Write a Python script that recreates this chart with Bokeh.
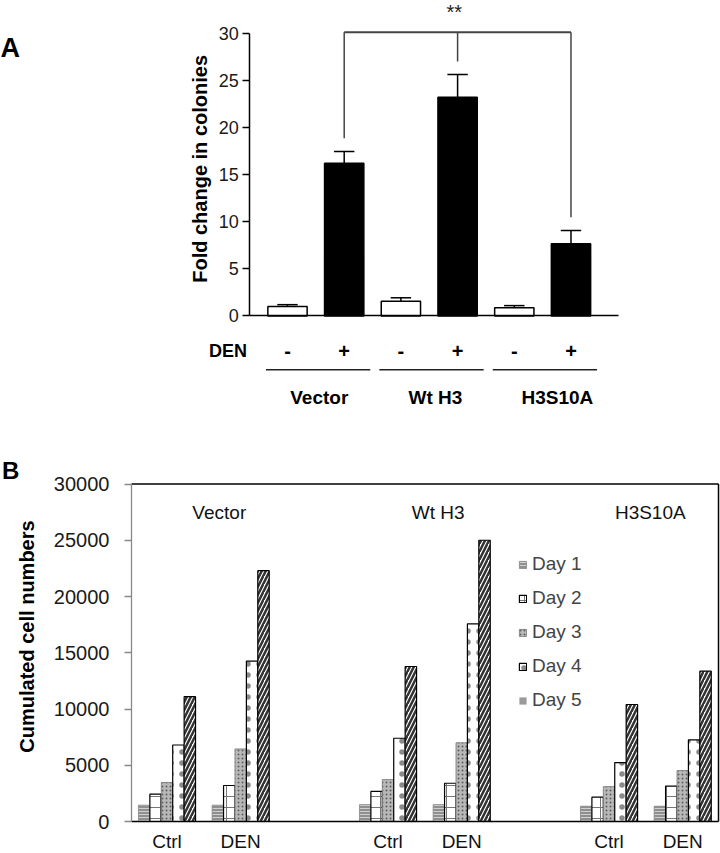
import math
from bokeh.plotting import figure
from bokeh.layouts import column
from bokeh.models import (Range1d, FixedTicker, LinearAxis, Legend, LegendItem,
                          ColumnDataSource)
from bokeh.core.properties import value
from bokeh.embed import file_html
from bokeh.resources import INLINE

# ---------------- DATA ----------------
# Panel A
groups_A = ["Vector", "Wt H3", "H3S10A"]
den_signs = ["-", "+", "-", "+", "-", "+"]
fold_mean = [1.0, 16.2, 1.55, 23.2, 0.88, 7.65]
fold_err = [0.2, 1.25, 0.38, 2.4, 0.22, 1.42]
yticks_A = [0, 5, 10, 15, 20, 25, 30]
sig_bars = [1, 3, 5]          # bars joined by the significance bracket
sig_text = "**"

# Panel B
groups_B = ["Vector", "Wt H3", "H3S10A"]
treatments = ["Ctrl", "DEN"]
days = ["Day 1", "Day 2", "Day 3", "Day 4", "Day 5"]
day1 = [1450, 1450, 1500, 1500, 1360, 1360]
day2 = [2440, 3200, 2670, 3400, 2160, 3140]
day3 = [3470, 6450, 3730, 7000, 3100, 4530]
day4 = [6800, 14250, 7400, 17570, 5240, 7260]
day5 = [11100, 22300, 13780, 25000, 10400, 13360]
yticks_B = [0, 5000, 10000, 15000, 20000, 25000, 30000]

FONT = value("Liberation Sans")


def y_axis(fig, loc, ticks, tick_len, label_gap, font_size, line_color, line_width):
    """Axis drawn at a fixed x; its tick labels are set as text beside the ticks."""
    ax = LinearAxis(fixed_location=loc, bounds=(ticks[0], ticks[-1]),
                    ticker=FixedTicker(ticks=ticks))
    ax.major_label_text_alpha = 0
    ax.major_tick_out = tick_len
    ax.major_tick_in = 0
    ax.minor_tick_line_color = None
    ax.axis_line_color = line_color
    ax.axis_line_width = line_width
    ax.major_tick_line_color = line_color
    ax.major_tick_line_width = line_width
    fig.add_layout(ax, "left")
    fig.text(x=[loc] * len(ticks), y=ticks, text=[str(t) for t in ticks],
             x_offset=-(tick_len + label_gap), text_align="right", text_baseline="middle",
             text_font=FONT, text_font_size=font_size, text_color="#1a1a1a")


# ---------------- PANEL A ----------------
A_axis_x = -0.665          # where the y axis stands
A_x_end = 5.843            # where the x axis line ends
pA = figure(width=720, height=416, x_range=Range1d(-5.062, 7.637),
            y_range=Range1d(-10.66, 33.457), output_backend="svg",
            toolbar_location=None, x_axis_location=None, y_axis_location=None,
            min_border=0, min_border_left=0, min_border_right=0,
            min_border_top=0, min_border_bottom=0)
pA.outline_line_color = None
pA.grid.visible = False

y_axis(pA, A_axis_x, yticks_A, 7, 4, "18px", "black", 1.5)

xa_axis = LinearAxis(fixed_location=0, bounds=(A_axis_x, A_x_end),
                     ticker=FixedTicker(ticks=[]))
xa_axis.axis_line_width = 1.5
xa_axis.major_tick_line_color = None
xa_axis.minor_tick_line_color = None
pA.add_layout(xa_axis, "below")

xa = list(range(len(fold_mean)))
fills = ["white" if s == "-" else "black" for s in den_signs]
tops = [m + e for m, e in zip(fold_mean, fold_err)]
srcA = ColumnDataSource(dict(x=xa, top=fold_mean, fill=fills, err=tops,
                             cl=[x - 0.18 for x in xa], cr=[x + 0.18 for x in xa]))
pA.segment(x0="x", y0="top", x1="x", y1="err", source=srcA, line_color="black", line_width=1.5)
pA.segment(x0="cl", y0="err", x1="cr", y1="err", source=srcA, line_color="black", line_width=1.5)
pA.vbar(x="x", top="top", width=0.693, bottom=0, source=srcA, fill_color="fill",
        line_color="black", line_width=1.5)

# significance bracket
br_y = 30.1
pA.segment(x0=[sig_bars[0]], y0=[br_y], x1=[sig_bars[-1]], y1=[br_y],
           line_color="#444444", line_width=2)
pA.segment(x0=sig_bars, y0=[tops[i] + 1.4 for i in sig_bars], x1=sig_bars,
           y1=[br_y] * len(sig_bars), line_color="#444444", line_width=1.5)
mid = sig_bars[len(sig_bars) // 2]
pA.text(x=[mid - 0.06], y=[32.2], text=[sig_text], text_align="center", text_baseline="middle",
        text_font=FONT, text_font_size="20px", text_color="#222222")

# DEN row, underlines, group labels
pA.text(x=xa, y=[-3.76] * len(xa), text=den_signs, text_align="center",
        text_baseline="middle", text_font=FONT, text_font_style="bold",
        text_font_size="20px", text_color="black")
gcent = [2 * g + 0.5 for g in range(len(groups_A))]
pA.segment(x0=[c + 0.04 - 0.92 for c in gcent], y0=[-5.7] * 3,
           x1=[c + 0.04 + 0.92 for c in gcent], y1=[-5.7] * 3,
           line_color="#222222", line_width=1.5)
label_off_A = [0.06, 0.11, 0.26]
pA.text(x=[c + o for c, o in zip(gcent, label_off_A)], y=[-8.61] * 3, text=groups_A,
        text_align="center", text_baseline="middle", text_font=FONT,
        text_font_style="bold", text_font_size="19px", text_color="black")
pA.text(x=[-1.05], y=[-3.76], text=["DEN"], text_align="center", text_baseline="middle",
        text_font=FONT, text_font_style="bold", text_font_size="18px", text_color="black")
pA.text(x=[-1.55], y=[15.6], text=["Fold change in colonies"], angle=math.pi / 2,
        text_align="center", text_baseline="middle", text_font=FONT,
        text_font_style="bold", text_font_size="20px", text_color="black")
pA.text(x=[-5.062], y=[28.37], text=["A"], text_align="left", text_baseline="middle",
        text_font=FONT, text_font_style="bold", text_font_size="27px", text_color="black")

# ---------------- PANEL B ----------------
B_left, B_right = -0.482, 7.486     # box edges (y axis and right border)
pB = figure(width=720, height=437, x_range=Range1d(-2.260, 7.513),
            y_range=Range1d(-2844, 36000), output_backend="svg", toolbar_location=None,
            x_axis_location=None, y_axis_location=None, min_border=0,
            min_border_left=0, min_border_right=0, min_border_top=0, min_border_bottom=0)
pB.outline_line_color = None
pB.grid.visible = False

slots = [3 * g + t for g in range(len(groups_B)) for t in range(len(treatments))]
bw = 0.155
styles = [
    dict(fill_color="#8f8f8f", line_color="#888888", line_width=0.8,
         hatch_pattern="horizontal_line", hatch_color="#cfcfcf", hatch_scale=3, hatch_weight=1),
    dict(fill_color="white", line_color="black", line_width=1.2,
         hatch_pattern="cross", hatch_color="#777777", hatch_scale=11, hatch_weight=1),
    dict(fill_color="#b8b8b8", line_color="#777777", line_width=0.8,
         hatch_pattern="dot", hatch_color="#5e5e5e", hatch_scale=4, hatch_weight=2),
    dict(fill_color="white", line_color="black", line_width=1.2,
         hatch_pattern="dot", hatch_color="#8a8a8a", hatch_scale=11, hatch_weight=6),
    dict(fill_color="white", line_color="black", line_width=1.2,
         hatch_pattern="right_diagonal_line", hatch_color="#333333", hatch_scale=8, hatch_weight=2.5),
]
series = [day1, day2, day3, day4, day5]
renderers = []
for d, vals in enumerate(series):
    xs = [s + (d - 2) * bw for s in slots]
    r = pB.vbar(x=xs, top=vals, bottom=0, width=bw, **styles[d])
    renderers.append(r)
# legend swatch for Day 5 (drawn solid grey in the original legend); zero-height, invisible
dummy5 = pB.vbar(x=[slots[0]], top=[0], bottom=[0], width=bw, fill_color="#9a9a9a",
                 line_alpha=0)
legend_rs = renderers[:4] + [dummy5]
legend = Legend(items=[LegendItem(label=days[i], renderers=[legend_rs[i]]) for i in range(5)],
                location=(518, 142), glyph_width=9, glyph_height=9, label_standoff=5,
                label_text_font="Liberation Sans", label_text_font_size="19px",
                spacing=12, label_height=20, padding=0, margin=0,
                border_line_color=None, background_fill_alpha=0)
pB.add_layout(legend, "center")

# box: top and right border
pB.segment(x0=[B_left, B_right], y0=[yticks_B[-1], 0], x1=[B_right, B_right],
           y1=[yticks_B[-1], yticks_B[-1]], line_color="black", line_width=1.5)

y_axis(pB, B_left, yticks_B, 7, 15, "20px", "#888888", 1.3)

xb = LinearAxis(fixed_location=0, bounds=(B_left, B_right),
                ticker=FixedTicker(ticks=slots))
xb.major_label_overrides = {s: treatments[i % 2] for i, s in enumerate(slots)}
xb.major_tick_out = 7
xb.major_tick_in = 0
xb.major_tick_line_color = None
xb.minor_tick_line_color = None
xb.axis_line_width = 1.5
xb.axis_line_color = "black"
xb.major_label_text_font = "Liberation Sans"
xb.major_label_text_font_size = "19px"
xb.major_label_text_color = "#111111"
xb.major_label_standoff = 2
pB.add_layout(xb, "below")

label_off_B = [0.21, 0.18, 0.06]
gB = [3 * g + 0.5 + o for g, o in zip(range(len(groups_B)), label_off_B)]
pB.text(x=gB, y=[27470] * 3, text=groups_B, text_align="center", text_baseline="middle",
        text_font=FONT, text_font_size="19px", text_color="#111111")
pB.text(x=[-1.894], y=[16444], text=["Cumulated cell numbers"], angle=math.pi / 2,
        text_align="center", text_baseline="middle", text_font=FONT,
        text_font_style="bold", text_font_size="20px", text_color="black")
pB.text(x=[-2.24], y=[31200], text=["B"], text_align="left", text_baseline="middle",
        text_font=FONT, text_font_style="bold", text_font_size="24px", text_color="black")

layout = column(pA, pB)
open("out.html", "w").write(file_html(layout, INLINE))
